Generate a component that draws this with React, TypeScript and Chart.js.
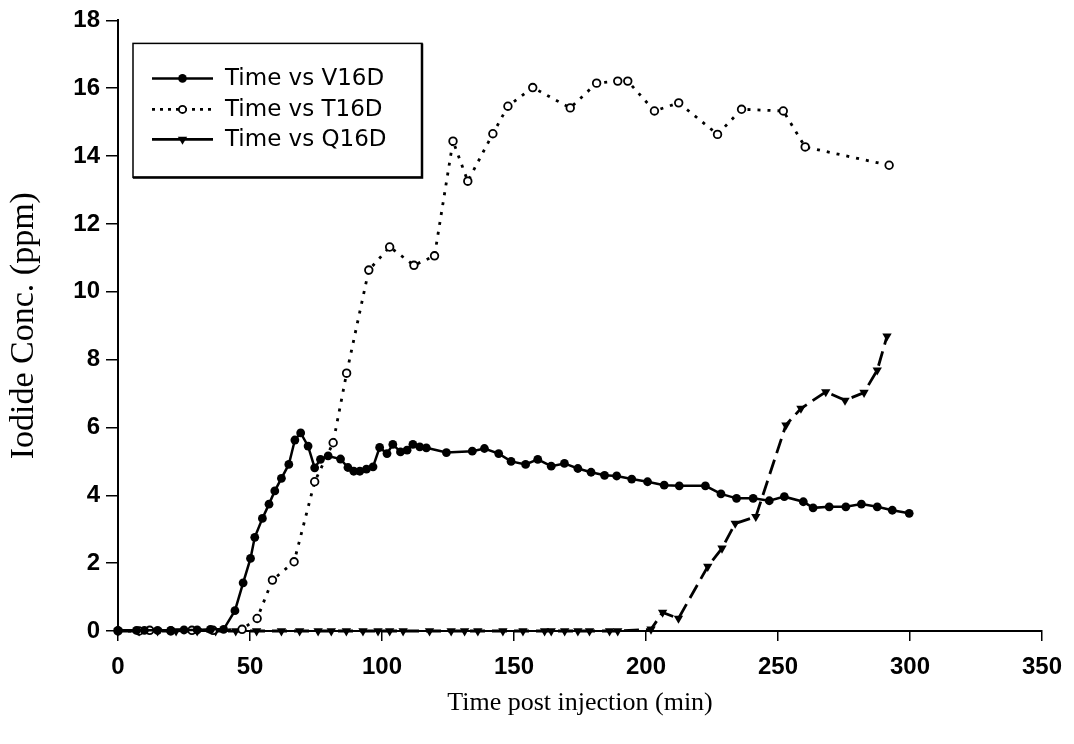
import React, { useEffect, useRef } from 'react';
import { Chart, registerables } from 'chart.js';

Chart.register(...registerables);

// ---- Data ----
const X_TICK_STEP = 50;
const Y_TICK_STEP = 2;
const X_MAX = 350;
const Y_MAX = 18;

const V16D_TIME = [0, 7, 10, 15, 20, 25, 30, 35, 40, 44.3, 47.4, 50.2, 51.8, 54.7, 57.2, 59.4, 61.9, 64.7, 67, 69.2, 72, 74.5, 76.7, 79.6, 84.3, 87.1, 89.3, 91.6, 94.1, 96.6, 99.1, 101.9, 104.1, 107, 109.5, 111.7, 114.3, 116.8, 124.4, 134.2, 138.8, 144.2, 148.9, 154.4, 159, 164.1, 169.1, 174.2, 179.2, 184.3, 188.9, 194.6, 200.6, 206.9, 212.6, 222.5, 228.4, 234.3, 240.6, 246.7, 252.4, 259.6, 263.3, 269.4, 275.7, 281.6, 287.6, 293.3, 299.7];
const V16D_CONC = [0.02, 0.02, 0.02, 0.02, 0.02, 0.03, 0.03, 0.05, 0.05, 0.6, 1.42, 2.14, 2.76, 3.32, 3.74, 4.13, 4.5, 4.91, 5.63, 5.84, 5.45, 4.81, 5.06, 5.16, 5.07, 4.82, 4.71, 4.71, 4.77, 4.84, 5.41, 5.23, 5.5, 5.28, 5.33, 5.5, 5.43, 5.4, 5.26, 5.3, 5.38, 5.23, 5.0, 4.91, 5.06, 4.86, 4.94, 4.79, 4.68, 4.59, 4.57, 4.48, 4.4, 4.3, 4.28, 4.28, 4.04, 3.91, 3.91, 3.84, 3.96, 3.81, 3.63, 3.66, 3.66, 3.74, 3.66, 3.56, 3.47];

const T16D_TIME = [0, 8, 12, 20, 28, 36, 47, 52.7, 58.5, 66.7, 74.5, 81.5, 86.6, 95, 102.9, 112.1, 119.9, 126.9, 132.5, 142, 147.7, 157.1, 171.3, 181.3, 189.3, 193.1, 203.2, 212.4, 227.1, 236.2, 252, 260.3, 292.1];
const T16D_CONC = [0, 0, 0.02, 0, 0.02, 0.02, 0.05, 0.37, 1.5, 2.04, 4.4, 5.55, 7.6, 10.64, 11.32, 10.78, 11.06, 14.44, 13.26, 14.66, 15.47, 16.02, 15.42, 16.15, 16.21, 16.21, 15.33, 15.57, 14.64, 15.38, 15.33, 14.27, 13.73];

const Q16D_TIME = [0, 8, 15, 22, 30, 37, 44.6, 52.5, 61.9, 68.8, 75.8, 80.8, 86.5, 92.8, 98.5, 102.9, 108, 118, 126.2, 131.3, 136.3, 145.8, 153.4, 161.6, 164.1, 169.2, 174.2, 178.6, 186.2, 189.3, 201.9, 206.3, 212.3, 223.4, 228.8, 233.8, 241.6, 253, 258.7, 268.1, 275.4, 282.6, 287.6, 291.3];
const Q16D_CONC = [0, 0, 0, 0, 0, 0, 0, 0, 0, 0, 0, 0, 0, 0, 0, 0, 0, 0, 0, 0, 0, 0, 0, 0, 0, 0, 0, 0, 0, 0, 0.05, 0.55, 0.37, 1.9, 2.44, 3.17, 3.37, 6.07, 6.56, 7.05, 6.8, 7.03, 7.69, 8.69];

const SERIES_LABELS = ['Time vs V16D', 'Time vs T16D', 'Time vs Q16D'];
const X_TITLE = 'Time post injection (min)';
const Y_TITLE = 'Iodide Conc. (ppm)';

const toPoints = (xs: number[], ys: number[]) => xs.map((x, i) => ({ x, y: ys[i] }));

const SANS = '"Liberation Sans", Arial, sans-serif';
const LEGEND_SANS = '"DejaVu Sans", "Liberation Sans", Arial, sans-serif';
const SERIF = '"Liberation Serif", "Times New Roman", serif';

function drawMarker(ctx: CanvasRenderingContext2D, kind: string, x: number, y: number) {
  ctx.save();
  ctx.setLineDash([]);
  if (kind === 'filled') {
    ctx.fillStyle = '#000';
    ctx.beginPath();
    ctx.arc(x, y, 4.3, 0, Math.PI * 2);
    ctx.fill();
  } else if (kind === 'open') {
    ctx.fillStyle = '#fff';
    ctx.strokeStyle = '#000';
    ctx.lineWidth = 1.8;
    ctx.beginPath();
    ctx.arc(x, y, 3.6, 0, Math.PI * 2);
    ctx.fill();
    ctx.stroke();
  } else {
    const r = 5.4;
    ctx.fillStyle = '#000';
    ctx.beginPath();
    ctx.moveTo(x, y + r);
    ctx.lineTo(x - r * 0.866, y - r * 0.5);
    ctx.lineTo(x + r * 0.866, y - r * 0.5);
    ctx.closePath();
    ctx.fill();
  }
  ctx.restore();
}

export default function App() {
  const ref = useRef<HTMLCanvasElement | null>(null);

  useEffect(() => {
    document.body.style.margin = '0';
    const canvas = ref.current;
    if (!canvas) return;

    const bgPlugin = {
      id: 'whiteBg',
      beforeDraw(chart: any) {
        const c = chart.ctx;
        c.save();
        c.fillStyle = '#fff';
        c.fillRect(0, 0, chart.width, chart.height);
        c.restore();
      },
    };

    const markerKinds = ['filled', 'open', 'triangle'];

    const legendPlugin = {
      id: 'boxLegend',
      afterDraw(chart: any) {
        const c: CanvasRenderingContext2D = chart.ctx;
        const area = chart.chartArea;
        const left = area.left + 15;
        const top = area.top + 23;
        const w = 289;
        const h = 134;
        c.save();
        c.fillStyle = '#fff';
        c.fillRect(left, top, w, h);
        c.strokeStyle = '#000';
        c.lineWidth = 1.5;
        c.strokeRect(left, top, w, h);
        c.lineWidth = 2.5;
        c.beginPath();
        c.moveTo(left, top + h);
        c.lineTo(left + w, top + h);
        c.lineTo(left + w, top);
        c.stroke();
        const rows = [35, 66, 96];
        chart.data.datasets.forEach((ds: any, i: number) => {
          const y = top + rows[i];
          const x0 = left + 19;
          const x1 = left + 80;
          c.save();
          c.strokeStyle = '#000';
          c.lineWidth = ds.borderWidth;
          c.setLineDash(i === 1 ? [3, 5] : []);
          c.beginPath();
          c.moveTo(x0, y);
          c.lineTo(x1, y);
          c.stroke();
          c.restore();
          drawMarker(c, markerKinds[i], (x0 + x1) / 2, y);
          c.fillStyle = '#000';
          c.font = '23px ' + LEGEND_SANS;
          c.textAlign = 'left';
          c.textBaseline = 'middle';
          c.fillText(ds.label, left + 92, y + 1);
        });
        c.restore();
      },
    };

    const chart = new Chart(canvas, {
      type: 'scatter',
      data: {
        datasets: [
          {
            label: SERIES_LABELS[0],
            data: toPoints(V16D_TIME, V16D_CONC),
            showLine: true,
            borderColor: '#000',
            backgroundColor: '#000',
            borderWidth: 2.5,
            pointStyle: 'circle',
            pointRadius: 4.4,
            pointBorderWidth: 0,
            pointBackgroundColor: '#000',
            clip: false,
          },
          {
            label: SERIES_LABELS[1],
            data: toPoints(T16D_TIME, T16D_CONC),
            showLine: true,
            borderColor: '#000',
            backgroundColor: '#fff',
            borderWidth: 2.8,
            borderDash: [3, 7],
            pointStyle: 'circle',
            pointRadius: 3.8,
            pointBorderWidth: 1.8,
            pointBorderColor: '#000',
            pointBackgroundColor: '#fff',
            clip: false,
          },
          {
            label: SERIES_LABELS[2],
            data: toPoints(Q16D_TIME, Q16D_CONC),
            showLine: true,
            borderColor: '#000',
            backgroundColor: '#000',
            borderWidth: 2.8,
            borderDash: [15, 7],
            pointStyle: 'triangle',
            pointRotation: 180,
            pointRadius: 5.4,
            pointBorderWidth: 0,
            pointBackgroundColor: '#000',
            clip: false,
          },
        ],
      },
      options: {
        responsive: false,
        animation: false,
        devicePixelRatio: 1,
        layout: { padding: { left: 0, right: 31, top: 20, bottom: 0 } },
        plugins: {
          legend: { display: false },
          tooltip: { enabled: false },
        },
        scales: {
          x: {
            type: 'linear',
            min: 0,
            max: X_MAX,
            afterFit: (s: any) => {
              s.height = 113;
            },
            ticks: {
              stepSize: X_TICK_STEP,
              color: '#000',
              font: { family: SANS, size: 24, weight: 'bold' },
              padding: 12,
              maxRotation: 0,
            },
            grid: {
              drawOnChartArea: false,
              drawTicks: true,
              tickLength: 10,
              color: '#000',
              lineWidth: 1.5,
            },
            border: { display: true, color: '#000', width: 2 },
            title: {
              display: true,
              text: X_TITLE,
              color: '#000',
              font: { family: SERIF, size: 26 },
              padding: { top: 0, bottom: 25 },
            },
          },
          y: {
            type: 'linear',
            min: 0,
            max: Y_MAX,
            afterFit: (s: any) => {
              s.width = 118;
            },
            ticks: {
              stepSize: Y_TICK_STEP,
              color: '#000',
              font: { family: SANS, size: 24, weight: 'bold' },
              padding: 6,
            },
            grid: {
              drawOnChartArea: false,
              drawTicks: true,
              tickLength: 12,
              color: '#000',
              lineWidth: 1.5,
            },
            border: { display: true, color: '#000', width: 2 },
            title: {
              display: true,
              text: Y_TITLE,
              color: '#000',
              font: { family: SERIF, size: 34 },
              padding: { top: 4, bottom: 0 },
            },
          },
        },
      },
      plugins: [bgPlugin, legendPlugin],
    } as any);

    return () => chart.destroy();
  }, []);

  return (
    <div style={{ width: 1074, height: 744, background: '#fff' }}>
      <canvas ref={ref} width={1074} height={744} style={{ display: 'block', width: 1074, height: 744 }} />
    </div>
  );
}
